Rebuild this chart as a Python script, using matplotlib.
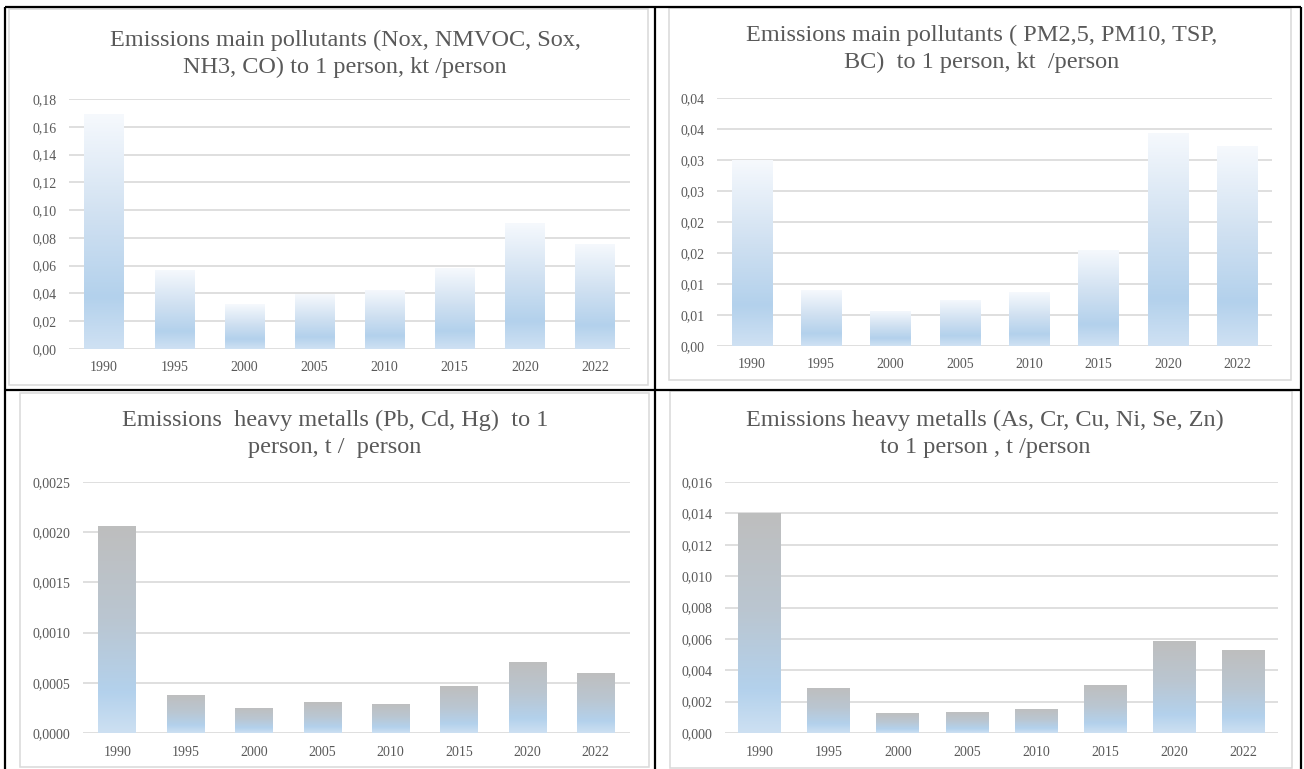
import numpy as np
import matplotlib
matplotlib.use('Agg')
import matplotlib.pyplot as plt
from matplotlib.colors import LinearSegmentedColormap
from matplotlib.patches import Rectangle

# emissions per person by year
years = ['1990', '1995', '2000', '2005', '2010', '2015', '2020', '2022']
gases_kt = [0.169, 0.057, 0.0323, 0.0393, 0.0426, 0.058, 0.0905, 0.0756]
particles_kt = [0.0300, 0.0090, 0.0057, 0.0075, 0.0087, 0.0155, 0.0344, 0.0323]
metals_pb_t = [0.00206, 0.00038, 0.00025, 0.000306, 0.00029, 0.000466, 0.00071, 0.00060]
metals_as_t = [0.0140, 0.00287, 0.0013, 0.00136, 0.00155, 0.00308, 0.00587, 0.00527]

# y axis ticks and their labels (decimal comma, fixed digits)
gases_ticks = [0, 0.02, 0.04, 0.06, 0.08, 0.10, 0.12, 0.14, 0.16, 0.18]
gases_labels = ['0,00', '0,02', '0,04', '0,06', '0,08', '0,10', '0,12', '0,14', '0,16', '0,18']
particles_ticks = [0, 0.005, 0.01, 0.015, 0.02, 0.025, 0.03, 0.035, 0.04]
particles_labels = ['0,00', '0,01', '0,01', '0,02', '0,02', '0,03', '0,03', '0,04', '0,04']
pb_ticks = [0, 0.0005, 0.001, 0.0015, 0.002, 0.0025]
pb_labels = ['0,0000', '0,0005', '0,0010', '0,0015', '0,0020', '0,0025']
as_ticks = [0, 0.002, 0.004, 0.006, 0.008, 0.010, 0.012, 0.014, 0.016]
as_labels = ['0,000', '0,002', '0,004', '0,006', '0,008', '0,010', '0,012', '0,014', '0,016']

titles = [
    'Emissions main pollutants (Nox, NMVOC, Sox,\nNH3, CO) to 1 person, kt /person',
    'Emissions main pollutants ( PM2,5, PM10, TSP,\nBC)  to 1 person, kt  /person',
    'Emissions  heavy metalls (Pb, Cd, Hg)  to 1\nperson, t /  person',
    'Emissions heavy metalls (As, Cr, Cu, Ni, Se, Zn)\nto 1 person , t /person',
]

W, H = 1304, 769
TEXT = '#595959'
GRID = '#D9D9D9'

plt.rcParams['font.family'] = ['Liberation Serif', 'DejaVu Serif']

blue_fade = LinearSegmentedColormap.from_list(
    'blue_fade', [(0, '#CFE1F3'), (0.22, '#B3D1EC'), (0.55, '#CFE0F1'), (1, '#F6F9FD')])
grey_blue = LinearSegmentedColormap.from_list(
    'grey_blue', [(0, '#CDE0F2'), (0.2, '#B3D1EC'), (0.55, '#BAC6D1'), (1, '#BEBEBE')])


def px_axes(fig, x0, y0, x1, y1):
    return fig.add_axes([x0 / W, 1 - y1 / H, (x1 - x0) / W, (y1 - y0) / H])


def gradient_bars(ax, values, width, cmap):
    x = np.arange(len(values))
    bars = ax.bar(x, values, width=width, color='none', edgecolor='none', zorder=2)
    grad = np.linspace(0, 1, 256).reshape(-1, 1)
    for patch in bars.patches:
        x0 = patch.get_x()
        im = ax.imshow(grad, extent=[x0, x0 + patch.get_width(), 0, patch.get_height()],
                       origin='lower', aspect='auto', cmap=cmap, zorder=2)
        im.set_clip_path(patch)


def style_axes(ax, ymax, ticks, labels):
    ax.set_xlim(-0.5, len(years) - 0.5)
    ax.set_ylim(0, ymax)
    ax.set_xticks(np.arange(len(years)))
    ax.set_xticklabels(years)
    ax.set_yticks(ticks)
    ax.set_yticklabels(labels)
    ax.set_axisbelow(True)
    ax.grid(axis='y', color=GRID, lw=1.2)
    for s in ax.spines.values():
        s.set_visible(False)
    ax.tick_params(length=0, labelsize=10, labelcolor=TEXT)
    ax.tick_params(axis='x', pad=9)
    ax.tick_params(axis='y', pad=9)
    ax.set_facecolor('none')


fig = plt.figure(figsize=(W / 100, H / 100), dpi=100)

# table frame and chart borders, drawn in pixel coordinates
frame = fig.add_axes([0, 0, 1, 1])
frame.set_xlim(0, W)
frame.set_ylim(H, 0)
frame.axis('off')
for (x0, y0, x1, y1) in [(9, 9, 648, 385), (669, 8, 1291, 380),
                         (20, 393, 649, 767), (670, 391, 1292, 768)]:
    frame.add_patch(Rectangle((x0, y0), x1 - x0, y1 - y0, fill=False,
                              edgecolor=GRID, lw=1.1))
for xv in [5, 655, 1301]:
    frame.plot([xv, xv], [7, H], color='black', lw=1.6, solid_capstyle='butt')
for yh in [7, 389.5]:
    frame.plot([5, 1301], [yh, yh], color='black', lw=1.6, solid_capstyle='butt')

panels = [
    ((69, 99, 630, 349), gases_kt, 0.18, gases_ticks, gases_labels, blue_fade, 0.56, (345, 54)),
    ((717, 98, 1272, 346), particles_kt, 0.04, particles_ticks, particles_labels, blue_fade, 0.58, (982, 49)),
    ((83, 482, 630, 733), metals_pb_t, 0.0025, pb_ticks, pb_labels, grey_blue, 0.55, (335, 434)),
    ((725, 482, 1278, 733), metals_as_t, 0.016, as_ticks, as_labels, grey_blue, 0.62, (985, 434)),
]

for (box, vals, ymax, ticks, labels, cmap, width, (tx, ty)), title in zip(panels, titles):
    ax = px_axes(fig, *box)
    gradient_bars(ax, vals, width, cmap)
    style_axes(ax, ymax, ticks, labels)
    fig.text(tx / W, 1 - ty / H, title, ha='center', va='center',
             fontsize=17.5, color=TEXT, linespacing=1.4)

fig.savefig('out.png', dpi=100)
